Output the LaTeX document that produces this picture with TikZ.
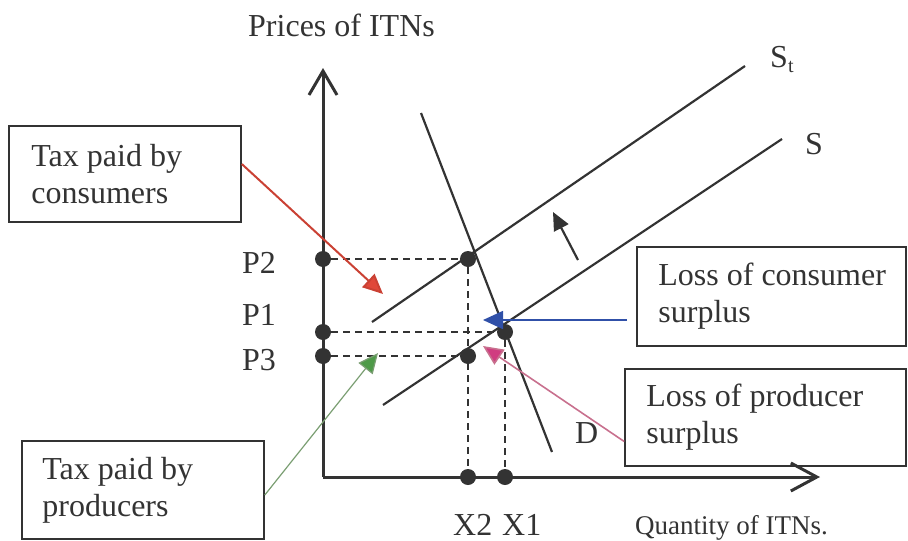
\documentclass[tikz,border=0pt]{standalone}
\usepackage{fontspec}
\setmainfont{Liberation Serif}
\usetikzlibrary{arrows.meta}
\definecolor{ink}{HTML}{333333}
\definecolor{redarr}{HTML}{E0483A}
\definecolor{bluearr}{HTML}{3050A8}
\definecolor{pinkarr}{HTML}{D03C80}
\definecolor{pinkline}{HTML}{C8708E}
\definecolor{greenarr}{HTML}{4E9A48}
\definecolor{greenline}{HTML}{7A9E72}
\tikzset{
  dot/.style={circle,fill=ink,inner sep=0pt,minimum size=16pt},
  boxst/.style={draw=ink,line width=1.6pt,inner sep=0pt},
  lbl/.style={inner sep=0pt,text=ink},
  axisln/.style={draw=ink,line width=3pt},
  curve/.style={draw=ink,line width=2.2pt},
  dline/.style={draw=ink,line width=1.6pt,dash pattern=on 7pt off 5pt},
  tri/.style={-{Triangle[length=18pt,width=16pt]}},
}
\begin{document}
\begin{tikzpicture}[x=1pt,y=-1pt,font=\fontsize{32}{37}\selectfont]
\useasboundingbox (0,0) rectangle (908,541);
% axes
\coordinate (O) at (323,477);
\coordinate (Ytop) at (323,68);
\coordinate (Xtip) at (820,477);
\draw[axisln,-{Straight Barb[length=24pt,width=28pt]}] (O) -- (Ytop);
\draw[axisln,-{Straight Barb[length=26pt,width=28pt]}] (O) -- (Xtip);
% curves
\coordinate (Dtop) at (421,113); \coordinate (Dbot) at (552,452);
\coordinate (Stlo) at (372,322); \coordinate (Sthi) at (745,66);
\coordinate (Slo) at (383,405);  \coordinate (Shi) at (782,139);
\draw[curve] (Dtop) -- (Dbot);
\draw[curve] (Stlo) -- (Sthi);
\draw[curve] (Slo) -- (Shi);
% dots
\node[dot] (P2) at (323,259) {};
\node[dot] (P1) at (323,332) {};
\node[dot] (P3) at (323,356) {};
\node[dot] (A) at (468,259) {};
\node[dot] (B) at (505,332) {};
\node[dot] (C) at (468,356) {};
\node[dot] (X2) at (468,477) {};
\node[dot] (X1) at (505,477) {};
% dashed
\draw[dline] (P2) -- (A);
\draw[dline] (A) -- (X2);
\draw[dline] (P1) -- (B);
\draw[dline] (B) -- (X1);
\draw[dline] (P3) -- (C);
% shift arrow
\coordinate (Sh0) at (578,260); \coordinate (Sh1) at (553,212);
\draw[curve,tri] (Sh0) -- (Sh1);
% labels
\node[lbl,anchor=base west] (ylab) at (248,36) {Prices of ITNs};
\node[lbl,anchor=base west] (lp2) at (242,273) {P2};
\node[lbl,anchor=base west] (lp1) at (242,325) {P1};
\node[lbl,anchor=base west] (lp3) at (242,370) {P3};
\node[lbl,anchor=base west] (lx2) at (453,535) {X2};
\node[lbl,anchor=base west] (lx1) at (502,535) {X1};
\node[lbl,anchor=base west,font=\fontsize{27}{30}\selectfont] (xlab) at (635,534) {Quantity of ITNs.};
\node[lbl,anchor=base west] (lst) at (770,67) {S\raisebox{-5pt}{\fontsize{20}{20}\selectfont t}};
\node[lbl,anchor=base west] (ls) at (805,154) {S};
\node[lbl,anchor=base west] (ld) at (575,443) {D};
% boxes
\node[boxst,minimum width=232pt,minimum height=96pt] (b1) at (125,174) {};
\node[lbl,anchor=west,align=left] (t1) at ([xshift=23pt]b1.west) {Tax paid by\\consumers};
\node[boxst,minimum width=269pt,minimum height=99pt] (b2) at (771.5,296.5) {};
\node[lbl,anchor=west,align=left] (t2) at ([xshift=22pt]b2.west) {Loss of consumer\\surplus};
\node[boxst,minimum width=281pt,minimum height=97pt] (b3) at (765.5,417.5) {};
\node[lbl,anchor=west,align=left] (t3) at ([xshift=22pt]b3.west) {Loss of producer\\surplus};
\node[boxst,minimum width=242pt,minimum height=98pt] (b4) at (143,490) {};
\node[lbl,anchor=west,align=left] (t4) at ([xshift=21pt]b4.west) {Tax paid by\\producers};
% annotation arrows
\coordinate (redtip) at (383,294);
\coordinate (bluetip) at (483,320);
\coordinate (pinktip) at (483,346);
\coordinate (greentip) at (378,353);
\coordinate (bluetail) at (627,320);
\draw[draw=redarr!90!black,line width=2pt,-{Triangle[length=20pt,width=18pt,fill=redarr]}] ([yshift=10pt]b1.east) -- (redtip);
\draw[draw=bluearr,line width=1.6pt,-{Triangle[length=20pt,width=18pt,fill=bluearr]}] (bluetail) -- (bluetip);
\draw[draw=pinkline,line width=1.6pt,-{Triangle[length=20pt,width=18pt,fill=pinkarr]}] ([yshift=-24pt]b3.west) -- (pinktip);
\draw[draw=greenline,line width=1.2pt,-{Triangle[length=20pt,width=18pt,fill=greenarr]}] ([yshift=-5pt]b4.east) -- (greentip);
\end{tikzpicture}
\end{document}
